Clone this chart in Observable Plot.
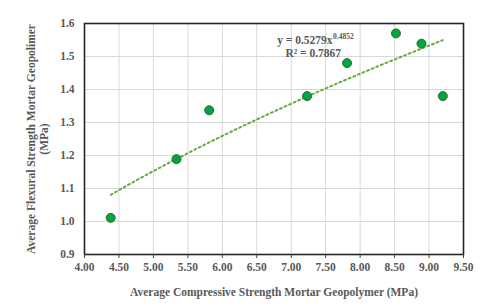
<!DOCTYPE html>
<html>
<head>
<meta charset="utf-8">
<script src="https://cdn.jsdelivr.net/npm/d3@7"></script>
<script src="https://cdn.jsdelivr.net/npm/@observablehq/plot@0.6"></script>
<style>
  html, body { margin: 0; padding: 0; background: #fff; }
  #chart svg { display: block; }
</style>
</head>
<body>
<div id="chart"></div>
<script>
// Data
const compressive = [4.38, 5.335, 5.81, 7.23, 7.81, 8.52, 8.89, 9.2];
const flexural    = [1.011, 1.189, 1.337, 1.38, 1.48, 1.57, 1.539, 1.38];
const xTicks = [4.0, 4.5, 5.0, 5.5, 6.0, 6.5, 7.0, 7.5, 8.0, 8.5, 9.0, 9.5];
const yTicks = [0.9, 1.0, 1.1, 1.2, 1.3, 1.4, 1.5, 1.6];
// Power trendline shown in the chart: y = a * x^b
const trendA = 0.5279;
const trendB = 0.4852;
const rSquared = 0.7867;

const points = compressive.map((x, i) => ({x, y: flexural[i]}));
const [xmin, xmax] = d3.extent(compressive);
const trend = d3.range(0, 41).map(i => {
  const x = xmin + (xmax - xmin) * i / 40;
  return {x, y: trendA * Math.pow(x, trendB)};
});

const textColor = "#595959";
const font = "'Liberation Serif', 'Times New Roman', serif";
const fs = 11.5;

const chart = Plot.plot({
  width: 480,
  height: 308,
  marginLeft: 84,
  marginRight: 17,
  marginTop: 23,
  marginBottom: 54,
  style: {fontFamily: font, fontSize: fs + "px", fontWeight: "bold", color: textColor, background: "#fff"},
  x: {domain: [4, 9.5], label: null},
  y: {domain: [0.9, 1.6], label: null},
  marks: [
    Plot.gridX(xTicks, {stroke: "#d9d9d9", strokeOpacity: 1, strokeWidth: 1}),
    Plot.gridY(yTicks, {stroke: "#d9d9d9", strokeOpacity: 1, strokeWidth: 1}),
    Plot.frame({stroke: "#262626", strokeWidth: 1.6}),
    Plot.axisX(xTicks, {tickSize: 4, tickPadding: 4, stroke: "#404040", tickFormat: d3.format(".2f"), fill: textColor, fontSize: fs, fontWeight: "bold"}),
    Plot.axisY(yTicks, {tickSize: 0, tickPadding: 10, tickFormat: d3.format(".1f"), fill: textColor, fontSize: fs, fontWeight: "bold"}),
    Plot.line(trend, {x: "x", y: "y", stroke: "#6aa843", strokeWidth: 2, strokeDasharray: "2,3"}),
    Plot.dot(points, {x: "x", y: "y", r: 4.5, fill: "#00a443", stroke: "#2f6b34", strokeWidth: 1}),
    // trendline annotation
    Plot.text([`y = ${trendA}x`], {x: 7.6, y: 1.548, textAnchor: "end", fill: textColor, fontSize: fs, fontWeight: "bold"}),
    Plot.text([`${trendB}`], {x: 7.6, y: 1.548, textAnchor: "start", dy: -4, dx: 0.5, fill: textColor, fontSize: 7.5, fontWeight: "bold"}),
    Plot.text([`R² = ${rSquared}`], {x: 7.32, y: 1.511, textAnchor: "middle", fill: textColor, fontSize: fs, fontWeight: "bold"}),
    // axis titles
    Plot.text(["Average Compressive Strength Mortar Geopolymer (MPa)"], {frameAnchor: "bottom", lineAnchor: "middle", dy: 38, fill: textColor, fontSize: fs, fontWeight: "bold"}),
    Plot.text(["Average Flexural Strength Mortar Geopolimer\n(MPa)"], {frameAnchor: "left", textAnchor: "middle", lineAnchor: "middle", dx: -47.5, rotate: -90, lineHeight: 1.15, fill: textColor, fontSize: fs, fontWeight: "bold"})
  ]
});
document.getElementById("chart").appendChild(chart);
</script>
</body>
</html>
